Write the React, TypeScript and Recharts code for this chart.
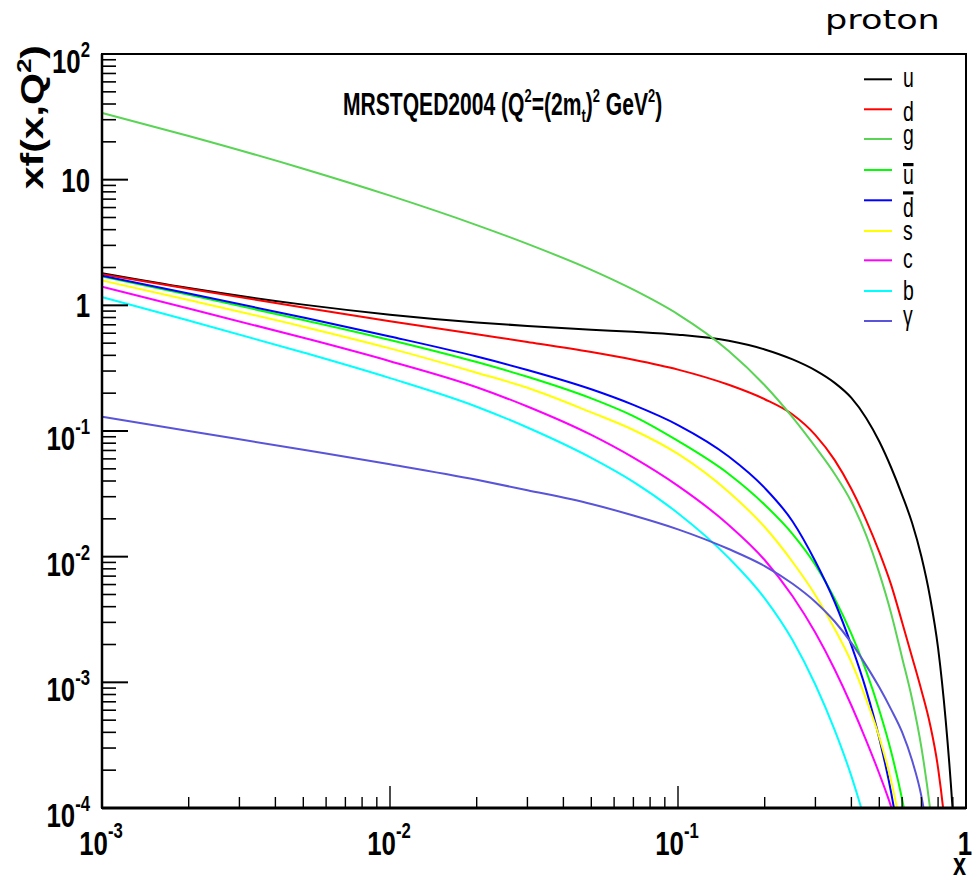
import React from 'react';
import { LineChart, Line, XAxis, YAxis, ReferenceArea, Legend } from 'recharts';

// momentum fraction grid shared by every curve
const X_VALUES = [0.001, 0.002, 0.005, 0.01, 0.02, 0.03, 0.05, 0.07, 0.1, 0.15, 0.2, 0.25, 0.3, 0.35, 0.4, 0.45, 0.5, 0.55, 0.6, 0.65, 0.7, 0.75, 0.8, 0.85, 0.9, 0.95];

// xf(x,Q^2) per parton; null once a curve has left the bottom of the frame
const U_VALUES = [1.802, 1.373, 1.013, 0.843, 0.731, 0.685, 0.64, 0.616, 0.584, 0.522, 0.4455, 0.371, 0.3036, 0.2414, 0.1834, 0.127, 0.0824, 0.051, 0.0309, 0.01852, 0.01002, 0.00477, 0.00187, 0.0005, 0.0000924, 0.00001];
const D_VALUES = [1.769, 1.353, 0.9605, 0.7485, 0.5875, 0.511, 0.4248, 0.3687, 0.308, 0.2331, 0.179, 0.1352, 0.0928, 0.0586, 0.03455, 0.01956, 0.01088, 0.00594, 0.00301, 0.001586, 0.000866, 0.000464, 0.000207, 0.0000606, 0.0000074, null];
const G_VALUES = [34, 22.27, 12.22, 7.46, 4.35, 3.083, 1.914, 1.331, 0.848, 0.434, 0.2314, 0.1284, 0.0746, 0.0455, 0.0272, 0.01486, 0.0074, 0.00352, 0.00157, 0.000734, 0.000304, 0.0001, 0.000026, 0.000002, null, null];
const UBAR_VALUES = [1.696, 1.214, 0.7647, 0.5302, 0.3535, 0.27, 0.1817, 0.1313, 0.0833, 0.0455, 0.02591, 0.01514, 0.0086, 0.00463, 0.00243, 0.001234, 0.0006, 0.000279, 0.0001173, 0.0000428, 0.0000119, null, null, null, null, null];
const DBAR_VALUES = [1.718, 1.244, 0.7995, 0.5653, 0.391, 0.3058, 0.2147, 0.1613, 0.1115, 0.0627, 0.03526, 0.01907, 0.00916, 0.004357, 0.001966, 0.000871, 0.000358, 0.0001312, 0.000039, 0.000009, null, null, null, null, null, null];
const S_VALUES = [1.576, 1.102, 0.6766, 0.4545, 0.2911, 0.2207, 0.1405, 0.1019, 0.0657, 0.0327, 0.01721, 0.00907, 0.00494, 0.00266, 0.001447, 0.000734, 0.000366, 0.0001632, 0.0000606, 0.0000191, null, null, null, null, null, null];
const C_VALUES = [1.404, 0.9431, 0.552, 0.3594, 0.2231, 0.1566, 0.09301, 0.06134, 0.03658, 0.01788, 0.00941, 0.004837, 0.002477, 0.001264, 0.000654, 0.0003454, 0.0001873, 0.0001017, 0.0000505, null, null, null, null, null, null, null];
const B_VALUES = [1.162, 0.7563, 0.4215, 0.2636, 0.1561, 0.1066, 0.0611, 0.03936, 0.02217, 0.00978, 0.004663, 0.002162, 0.000956, 0.000416, 0.0001792, 0.0000732, 0.0000291, null, null, null, null, null, null, null, null, null];
const PHOTON_VALUES = [0.1301, 0.1001, 0.07091, 0.05435, 0.04089, 0.0338, 0.02624, 0.02126, 0.0165, 0.0115, 0.00842, 0.00609, 0.004365, 0.003047, 0.002058, 0.001365, 0.000912, 0.000606, 0.000401, 0.0002385, 0.000124, 0.0000452, 0.0000127, null, null, null];

const SERIES = [
  { key: 'u', name: 'u', color: '#000000', values: U_VALUES },
  { key: 'd', name: 'd', color: '#ff0000', values: D_VALUES },
  { key: 'g', name: 'g', color: '#59d454', values: G_VALUES },
  { key: 'ubar', name: 'u\u0305', color: '#00ff00', values: UBAR_VALUES },
  { key: 'dbar', name: 'd\u0305', color: '#0000ff', values: DBAR_VALUES },
  { key: 's', name: 's', color: '#ffff00', values: S_VALUES },
  { key: 'c', name: 'c', color: '#ff00ff', values: C_VALUES },
  { key: 'b', name: 'b', color: '#00ffff', values: B_VALUES },
  { key: 'gamma', name: 'γ', color: '#5954d8', values: PHOTON_VALUES },
];

const X_MAJOR = [0.001, 0.01, 0.1, 1];
const X_TICK_LABELS = [['10', '-3'], ['10', '-2'], ['10', '-1'], ['1', '']];
const Y_MAJOR = [0.0001, 0.001, 0.01, 0.1, 1, 10, 100];
const Y_TICK_LABELS = [['10', '-4'], ['10', '-3'], ['10', '-2'], ['10', '-1'], ['1', ''], ['10', ''], ['10', '2']];

const MINOR_STEPS = [2, 3, 4, 5, 6, 7, 8, 9];
const withMinors = (majors: number[]) =>
  majors.flatMap((d, i) => (i < majors.length - 1 ? [d, ...MINOR_STEPS.map((k) => k * d)] : [d]));
const X_TICKS = withMinors(X_MAJOR);
const Y_TICKS = withMinors(Y_MAJOR);

const ROWS = X_VALUES.map((x, i) => {
  const row: Record<string, number | null> = { x };
  SERIES.forEach((s) => {
    row[s.key] = s.values[i];
  });
  return row;
});

// layout
const W = 980;
const H = 880;
const PLOT = { left: 102, top: 54, right: 966, bottom: 808 };
const ROOT_FONT = "'Liberation Sans', Arial, Helvetica, sans-serif";
const SQUEEZE = 0.76;

const LEGEND_Y = [79.3, 109.3, 139, 170, 200.3, 231, 260.3, 291, 321];
const LEGEND_DY = [7.5, 11.5, 4.5, 13.5, 16.5, 8.5, 8, 9, 4];
const LEGEND_BAR_DY = [0, 0, 0, -4, -6, 0, 0, 0, 0];

function SqueezedText({ x, y, size, anchor = 'start', weight = 'bold', sx = SQUEEZE, children }: any) {
  return (
    <text
      transform={`translate(${x},${y}) scale(${sx},1)`}
      fontFamily={ROOT_FONT}
      fontWeight={weight}
      fontSize={size}
      textAnchor={anchor}
      fill="#000"
    >
      {children}
    </text>
  );
}

const renderXTick = (props: any) => {
  const { x, payload } = props;
  const idx = X_MAJOR.indexOf(payload.value);
  const major = idx >= 0;
  return (
    <g>
      <line x1={x} x2={x} y1={PLOT.bottom} y2={PLOT.bottom - (major ? 22 : 11)} stroke="#000" strokeWidth={1.4} />
      {major && (
        <SqueezedText x={x - 1} y={PLOT.bottom + 47} size={34} anchor="middle">
          {X_TICK_LABELS[idx][0]}
          {X_TICK_LABELS[idx][1] && (
            <tspan fontSize={22} dy={-17}>
              {X_TICK_LABELS[idx][1]}
            </tspan>
          )}
        </SqueezedText>
      )}
    </g>
  );
};

const renderYTick = (props: any) => {
  const { y, payload } = props;
  const idx = Y_MAJOR.indexOf(payload.value);
  const major = idx >= 0;
  const [base, exp] = major ? Y_TICK_LABELS[idx] : ['', ''];
  return (
    <g>
      <line x1={PLOT.left} x2={PLOT.left + (major ? 26 : 14)} y1={y} y2={y} stroke="#000" strokeWidth={major ? 2 : 1.6} />
      {major && (
        <SqueezedText x={90} y={y + (exp ? 19 : 12)} size={34} anchor="end">
          {base}
          {exp && (
            <tspan fontSize={22} dy={-16}>
              {exp}
            </tspan>
          )}
        </SqueezedText>
      )}
    </g>
  );
};

// legend drawn in series order, ROOT style: short line sample then the parton symbol
const renderLegend = () => (
  <svg width={W} height={H} style={{ position: 'absolute', left: 0, top: 0, overflow: 'visible' }}>
    {SERIES.map((s, i) => {
      const y = LEGEND_Y[i];
      const barred = s.name.length > 1;
      return (
        <g key={s.key}>
          <line x1={864} x2={892} y1={y} y2={y} stroke={s.color} strokeWidth={2} />
          <SqueezedText x={903} y={y + LEGEND_DY[i]} size={27} weight="normal" sx={0.72}>
            {s.name[0]}
          </SqueezedText>
          {barred && <rect x={903} y={y + LEGEND_BAR_DY[i] - 3} width={10.5} height={3.2} fill="#000" />}
        </g>
      );
    })}
  </svg>
);

export default function App() {
  return (
    <div style={{ position: 'absolute', left: 0, top: 0, width: W, height: H, background: '#fff' }}>
      <LineChart
        width={W}
        height={H}
        data={ROWS}
        margin={{ top: PLOT.top, right: W - PLOT.right, bottom: 0, left: 0 }}
      >
        <XAxis
          dataKey="x"
          type="number"
          scale="log"
          domain={[0.001, 1]}
          allowDataOverflow
          ticks={X_TICKS}
          interval={0}
          height={H - PLOT.bottom}
          tickLine={false}
          axisLine={{ stroke: '#000', strokeWidth: 3 }}
          tick={renderXTick}
        />
        <YAxis
          type="number"
          scale="log"
          domain={[0.0001, 100]}
          allowDataOverflow
          ticks={Y_TICKS}
          interval={0}
          width={PLOT.left}
          tickLine={false}
          axisLine={{ stroke: '#000', strokeWidth: 2.5 }}
          tick={renderYTick}
        />
        <ReferenceArea x1={0.001} x2={1} y1={0.0001} y2={100} fill="none" stroke="#000" strokeWidth={2} ifOverflow="visible" />
        {SERIES.map((s) => (
          <Line
            key={s.key}
            type="monotone"
            dataKey={s.key}
            name={s.name}
            stroke={s.color}
            strokeWidth={2}
            dot={false}
            activeDot={false}
            isAnimationActive={false}
          />
        ))}
        <Legend
          layout="vertical"
          align="center"
          verticalAlign="middle"
          content={renderLegend}
          wrapperStyle={{ left: 0, top: 0, width: W, height: H, pointerEvents: 'none' }}
        />
      </LineChart>
      <svg width={W} height={H} style={{ position: 'absolute', left: 0, top: 0, pointerEvents: 'none' }}>
        <text transform="translate(825,29) scale(1.3,1)" fontFamily="'DejaVu Sans', sans-serif" fontSize={27} fill="#000">
          proton
        </text>
        <SqueezedText x={343} y={115} size={31} sx={0.68}>
          MRSTQED2004 (Q
          <tspan fontSize={19} dy={-13}>2</tspan>
          <tspan dy={13}>=(2m</tspan>
          <tspan fontSize={19} dy={7}>t</tspan>
          <tspan dy={-7}>)</tspan>
          <tspan fontSize={19} dy={-13}>2</tspan>
          <tspan dy={13}> GeV</tspan>
          <tspan fontSize={19} dy={-13}>2</tspan>
          <tspan dy={13}>)</tspan>
        </SqueezedText>
        <text
          transform="translate(43,45) rotate(-90) scale(1,0.76)"
          fontFamily={ROOT_FONT}
          fontWeight="bold"
          fontSize={41}
          textAnchor="end"
          fill="#000"
        >
          xf(x,Q
          <tspan fontSize={26} dy={-16}>2</tspan>
          <tspan dy={16}>)</tspan>
        </text>
        <SqueezedText x={966} y={875} size={31} anchor="end">
          x
        </SqueezedText>
      </svg>
    </div>
  );
}
